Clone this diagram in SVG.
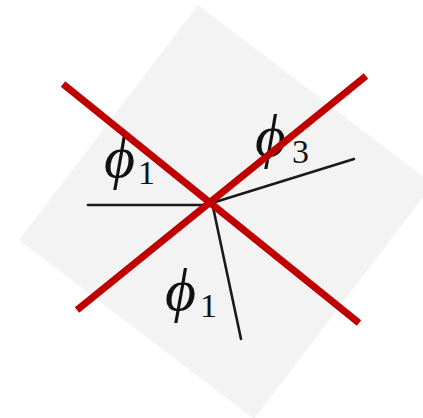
<svg xmlns="http://www.w3.org/2000/svg" width="423" height="418" viewBox="0 0 423 418">
<style>
.ink{stroke:#1a1a1a;stroke-width:2.6;stroke-linecap:round;fill:none}
.cross{stroke:#c00000;stroke-width:7;stroke-linecap:butt}
.phi{font-family:"Liberation Serif",serif;font-style:italic;font-size:60px;fill:#111}
.sub{font-family:"Liberation Serif",serif;font-size:34px;fill:#111}
</style>
<rect width="423" height="418" fill="#ffffff"/>
<polygon id="paper" points="198,5 433,184 254,419 19,240" fill="#f3f3f3"/>
<g id="lines">
<line class="ink" x1="88" y1="205" x2="210" y2="205"/>
<line class="ink" x1="212" y1="203" x2="354" y2="159"/>
<line class="ink" x1="213" y1="207" x2="241" y2="339"/>
</g>
<g id="label-phi1-left"><text class="phi" x="104" y="177">ϕ</text><text class="sub" x="138" y="184">1</text></g>
<g id="label-phi3"><text class="phi" x="255" y="156">ϕ</text><text class="sub" x="292" y="163">3</text></g>
<g id="label-phi1-bottom"><text class="phi" x="165" y="310">ϕ</text><text class="sub" x="200" y="317">1</text></g>
<g id="cross">
<line class="cross" x1="63" y1="84" x2="359" y2="323"/>
<line class="cross" x1="77" y1="310" x2="366" y2="76"/>
</g>
</svg>
